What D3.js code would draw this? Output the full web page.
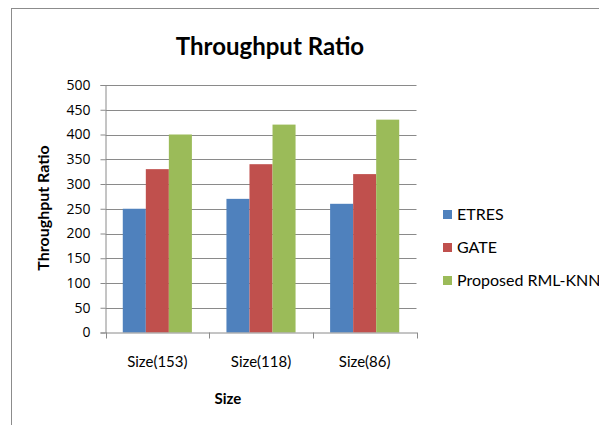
<!DOCTYPE html>
<html><head><meta charset="utf-8">
<script src="https://cdn.jsdelivr.net/npm/d3@7"></script>
<style>body{margin:0;background:#fff}svg{display:block}text{font-family:"Open Sans",sans-serif}</style>
</head><body><svg id="c" width="599" height="425"></svg>
<script>
const categories = ["Size(153)", "Size(118)", "Size(86)"];
const seriesNames = ["ETRES", "GATE", "Proposed RML-KNN"];
const etres = [250, 270, 260];
const gate = [330, 340, 320];
const proposed = [400, 420, 430];
const yTicks = [0, 50, 100, 150, 200, 250, 300, 350, 400, 450, 500];
const colors = ["#4F81BD", "#C0504D", "#9BBB59"];
const series = [etres, gate, proposed];

const svg = d3.select("#c");
svg.append("rect").attr("x", 11.5).attr("y", 8.5).attr("width", 700).attr("height", 500)
  .attr("fill", "#fff").attr("stroke", "#8c8c8c").attr("stroke-width", 1);

const L = 105.5, R = 416.5, T = 85, B = 332.5;
const x = d3.scaleBand().domain(categories).range([L, R]).paddingInner(0).paddingOuter(0);
const y = d3.scaleLinear().domain([0, 500]).range([B, T]);

// gridlines
svg.append("g").selectAll("line").data(yTicks.filter(d => d > 0)).join("line")
  .attr("x1", L).attr("x2", R).attr("y1", d => Math.round(y(d)) + 0.5).attr("y2", d => Math.round(y(d)) + 0.5)
  .attr("stroke", "#8a8a8a").attr("stroke-width", 1);

// bars
const bw = x.bandwidth();
const barW = bw / (3 + 1.5);
series.forEach((vals, si) => {
  svg.append("g").selectAll("rect").data(vals).join("rect")
    .attr("x", (d, i) => x(categories[i]) + 0.75 * barW + si * barW)
    .attr("width", barW)
    .attr("y", d => y(d))
    .attr("height", d => y(0) - y(d))
    .attr("fill", colors[si]);
});

// y axis
const yAxis = d3.axisLeft(y).tickValues(yTicks).tickSize(5).tickPadding(10);
const gy = svg.append("g").attr("transform", `translate(${L},0)`).call(yAxis);
gy.selectAll("path,line").attr("stroke", "#8a8a8a");
gy.selectAll("text").attr("font-size", 14).attr("fill", "#000").style("font-family", '"Open Sans",sans-serif');

// x axis
const gx = svg.append("g").attr("transform", `translate(0,${B})`)
  .call(d3.axisBottom(x).tickSize(0).tickPadding(24));
gx.select("path").attr("stroke", "#8a8a8a");
gx.selectAll("text").attr("fill", "#000").style("font-family", 'Lato,sans-serif').attr("font-size", 15);
// category separator ticks
const sepX = [L, ...categories.map(c => x(c) + bw)];
svg.append("g").selectAll("line").data(sepX).join("line")
  .attr("x1", d => Math.round(d) + 0.5).attr("x2", d => Math.round(d) + 0.5)
  .attr("y1", B).attr("y2", B + 6).attr("stroke", "#8a8a8a");

// titles
svg.append("text").attr("x", 270).attr("y", 55).attr("text-anchor", "middle")
  .style("font-family", "Lato,sans-serif").attr("font-size", 24).attr("font-weight", "bold").text("Throughput Ratio");
svg.append("text").attr("x", 228).attr("y", 404).attr("text-anchor", "middle")
  .style("font-family", "Lato,sans-serif").attr("font-size", 15).attr("font-weight", "bold").text("Size");
svg.append("text").attr("transform", "translate(49,208) rotate(-90)").attr("text-anchor", "middle")
  .style("font-family", "Lato,sans-serif").attr("font-size", 16).attr("font-weight", "bold").text("Throughput Ratio");

// legend
const lg = svg.append("g");
seriesNames.forEach((n, i) => {
  const cy = 214 + i * 33;
  lg.append("rect").attr("x", 443).attr("y", cy - 4).attr("width", 9).attr("height", 9).attr("fill", colors[i]);
  lg.append("text").attr("x", 457).attr("y", cy + 6).style("font-family", "Lato,sans-serif").attr("font-size", 16).text(n);
});
</script></body></html>
